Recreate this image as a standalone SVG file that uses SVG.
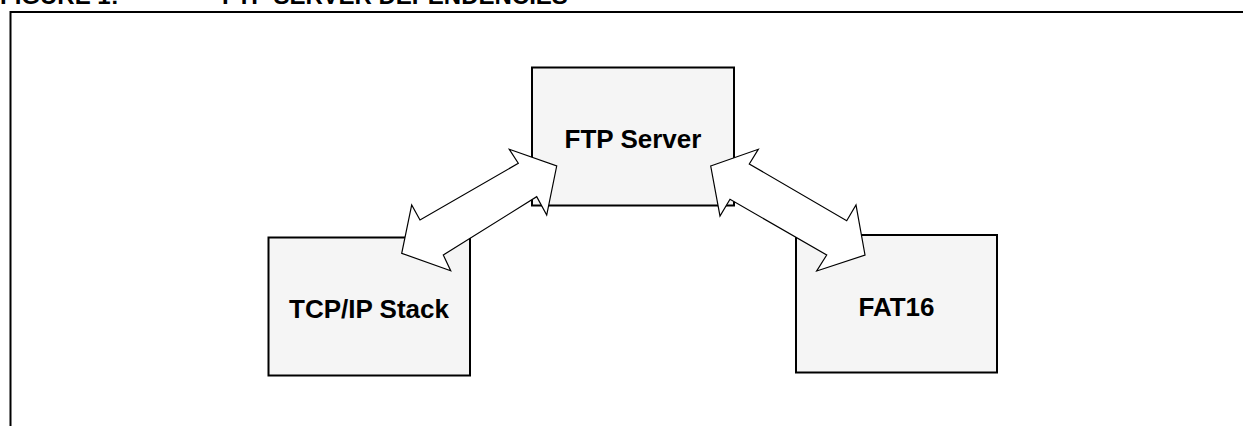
<svg xmlns="http://www.w3.org/2000/svg" width="1243" height="426" viewBox="0 0 1243 426">
  <style>
    .title { font-family: "Liberation Sans", Arial, sans-serif; font-weight: bold; font-size: 24px; fill: #000; }
    .frame { fill: none; stroke: #000; stroke-width: 2; }
    .box { fill: #f5f5f5; stroke: #000; stroke-width: 2; }
    .label { font-family: "Liberation Sans", Arial, sans-serif; font-weight: bold; font-size: 26px; fill: #000; text-anchor: middle; }
    .arrow { fill: #fff; stroke: #000; stroke-width: 1.2; stroke-linejoin: miter; }
  </style>

  <rect width="1243" height="426" fill="#fff"/>

  <!-- figure caption and frame -->
  <g id="caption">
    <text class="title" x="0" y="4">FIGURE 1:</text>
    <text class="title" x="222" y="4">FTP SERVER DEPENDENCIES</text>
  </g>
  <path class="frame" d="M10.5,426 V12 H1243"/>

  <!-- modules -->
  <g id="ftp-server">
    <rect class="box" x="532" y="67.5" width="202" height="138"/>
    <text class="label" x="633" y="148">FTP Server</text>
  </g>
  <g id="tcpip-stack">
    <rect class="box" x="268.5" y="237.5" width="201.5" height="138"/>
    <text class="label" x="369" y="318">TCP/IP Stack</text>
  </g>
  <g id="fat16">
    <rect class="box" x="796" y="235" width="201" height="137.5"/>
    <text class="label" x="896.5" y="316">FAT16</text>
  </g>

  <!-- bidirectional block arrows -->
  <g id="connectors">
    <polygon class="arrow" points="401.7,253.3 411.7,205 420,220 518.3,163.3 509.3,149.3 556.7,166 546.7,215 536.7,196.7 443.3,255 450.7,270.7"/>
    <polygon class="arrow" points="710.7,166 758.3,149.3 749.3,164 846.7,220.7 856,205 865,255 816.7,271 826.7,255 730,199.3 720,216"/>
  </g>
</svg>
